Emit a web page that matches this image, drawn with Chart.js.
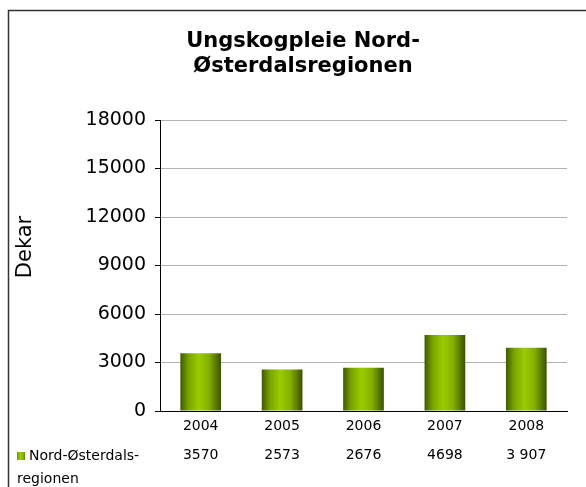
<!DOCTYPE html>
<html>
<head>
<meta charset="utf-8">
<script src="https://cdn.jsdelivr.net/npm/chart.js@4.4.1/dist/chart.umd.min.js"></script>
<style>
  html, body { margin: 0; padding: 0; background: #fff; }
  #wrap { width: 586px; height: 487px; position: relative; }
</style>
</head>
<body>
<div id="wrap"><canvas id="myChart"></canvas></div>
<script>
let years = ['2004', '2005', '2006', '2007', '2008'];
let dekar = [3570, 2573, 2676, 4698, 3907];
let tableText = ['3570', '2573', '2676', '4698', '3 907'];
let seriesName = 'Nord-Østerdalsregionen';
let titleLines = ['Ungskogpleie Nord-', 'Østerdalsregionen'];
let yTitle = 'Dekar';

let fontFam = '"DejaVu Sans", Verdana, sans-serif';
let barPct = 0.5;

function barGradient(ctx, x0, x1){
    let g = ctx.createLinearGradient(x0, 0, x1, 0);
    g.addColorStop(0, '#3f5a00');
    g.addColorStop(0.2, '#79a300');
    g.addColorStop(0.45, '#99cc00');
    g.addColorStop(0.7, '#86b000');
    g.addColorStop(1, '#3a5200');
    return g;
}

// border, title, axis title and the data table under the x axis
let extras = {
    id: 'extras',
    beforeDraw(chart){
        let c = chart.ctx;
        c.save();
        c.strokeStyle = '#333';
        c.lineWidth = 1.5;
        c.beginPath();
        c.moveTo(8.5, 490);
        c.lineTo(8.5, 10.5);
        c.lineTo(590, 10.5);
        c.stroke();
        c.restore();
    },
    afterDraw(chart){
        let c = chart.ctx;
        let xs = chart.scales.x;
        c.save();
        c.fillStyle = '#000';
        c.textAlign = 'center';
        c.textBaseline = 'alphabetic';
        c.font = 'bold 21px ' + fontFam;
        titleLines.forEach((t, i) => c.fillText(t, 303, 47 + i * 25));

        c.textBaseline = 'middle';
        c.font = '21px ' + fontFam;
        c.translate(26, 247);
        c.rotate(-Math.PI / 2);
        c.fillText(yTitle, 0, 0);
        c.restore();

        c.save();
        c.fillStyle = '#000';
        c.textAlign = 'center';
        c.textBaseline = 'middle';
        c.font = '14px ' + fontFam;
        tableText.forEach((t, i) => c.fillText(t, xs.getPixelForValue(i), 455));
        c.fillStyle = barGradient(c, 15, 27);
        c.fillRect(17, 452, 8, 8);
        c.fillStyle = '#000';
        c.textAlign = 'left';
        let cut = seriesName.indexOf('regionen');
        c.fillText(seriesName.slice(0, cut) + '-', 29, 456);
        c.fillText(seriesName.slice(cut), 17, 479);
        c.restore();
    }
};

let ctx = document.getElementById('myChart').getContext('2d');
let myChart = new Chart(ctx, {
    type: 'bar',
    data: {
        labels: years,
        datasets: [{
            label: seriesName,
            data: dekar,
            backgroundColor: function(context){
                let chart = context.chart;
                let xs = chart.scales.x;
                if (context.type !== 'data' || !xs || !chart.chartArea) return '#99cc00';
                let cx = xs.getPixelForValue(context.dataIndex);
                let half = chart.chartArea.width / years.length * barPct / 2;
                return barGradient(chart.ctx, cx - half, cx + half);
            },
            barPercentage: barPct,
            categoryPercentage: 1.0,
        }],
    },
    options: {
        responsive: true,
        maintainAspectRatio: false,
        animation: false,
        layout: { padding: { top: 120, right: 19, left: 0, bottom: 0 } },
        plugins: {
            legend: { display: false },
            title: { display: false },
            tooltip: { enabled: false },
        },
        scales: {
            x: {
                grid: { display: false },
                border: { display: true, color: '#000', width: 1 },
                ticks: { color: '#000', font: { family: fontFam, size: 14 }, padding: -1 },
                afterFit(scale){ scale.height = 76; },
            },
            y: {
                min: 0,
                max: 18000,
                ticks: {
                    stepSize: 3000,
                    color: '#000',
                    font: { family: fontFam, size: 19 },
                    padding: 9,
                    callback: (v) => String(v),
                },
                grid: { color: '#b3b3b3', tickColor: '#000', tickLength: 5, lineWidth: 1 },
                border: { display: true, color: '#000', width: 1 },
                afterFit(scale){ scale.width = 160; },
            },
        },
    },
    plugins: [extras],
});
</script>
</body>
</html>
